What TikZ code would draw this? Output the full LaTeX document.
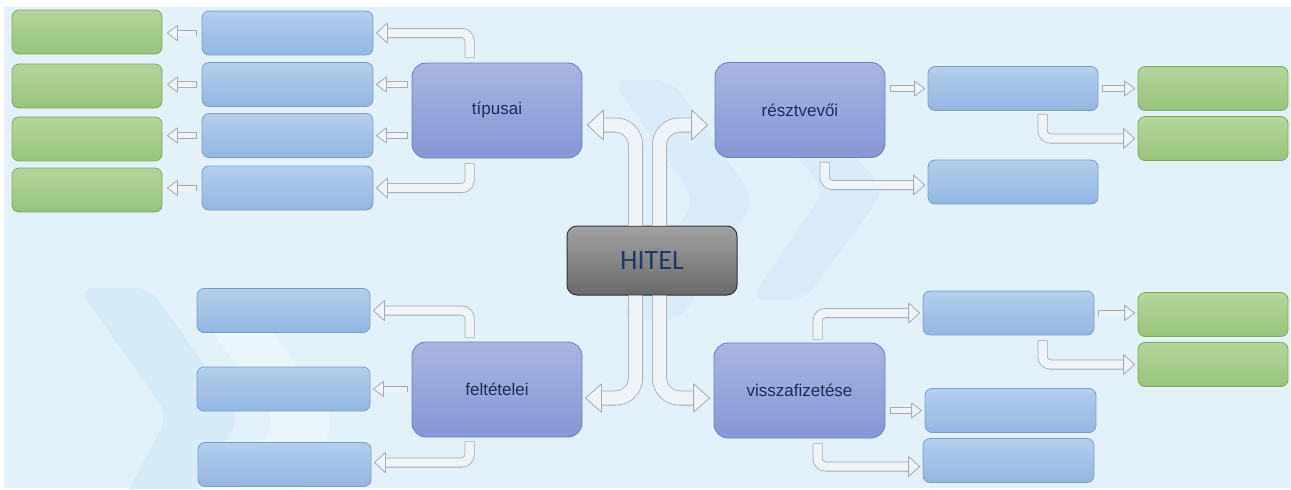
\documentclass[tikz,border=0pt]{standalone}
\usepackage{fontspec}
\setmainfont{Liberation Sans}
\newfontfamily\hitelfont{Carlito}
\usetikzlibrary{calc}
\definecolor{bg}{HTML}{E3F1FB}
\definecolor{chevA}{HTML}{D8EBF8}
\definecolor{chevU}{HTML}{DAECF9}
\definecolor{chevB}{HTML}{EAF5FC}
\definecolor{blueT}{HTML}{B5CEEC}
\definecolor{blueB}{HTML}{93B7E2}
\definecolor{blueL}{HTML}{7A9FCE}
\definecolor{greenT}{HTML}{B5D69C}
\definecolor{greenB}{HTML}{97C47A}
\definecolor{greenL}{HTML}{7FAA5F}
\definecolor{purT}{HTML}{A9B4E2}
\definecolor{purB}{HTML}{8597D6}
\definecolor{purL}{HTML}{6A7EC2}
\definecolor{grayT}{HTML}{A2A2A2}
\definecolor{grayB}{HTML}{6A6A6A}
\definecolor{txt}{HTML}{1F2D5C}
\definecolor{hiteltxt}{HTML}{1F3A66}
\definecolor{tubeline}{HTML}{A7ADB3}
\definecolor{tubefill}{HTML}{EEF4F8}
\begin{document}
\begin{tikzpicture}[x=1pt,y=-1pt,
  box/.style={rounded corners=7pt, inner sep=0pt, line width=0.8pt},
  bluebox/.style={box, draw=blueL, top color=blueT, bottom color=blueB, minimum width=171pt, minimum height=44pt},
  greenbox/.style={box, draw=greenL, top color=greenT, bottom color=greenB, minimum width=150pt, minimum height=44pt},
  mainbox/.style={rounded corners=14pt, inner sep=0pt, line width=0.8pt, draw=purL, top color=purT, bottom color=purB, minimum width=170pt, minimum height=95pt, text=txt, font=\fontsize{17}{20}\selectfont},
  hitel/.style={rounded corners=10pt, inner sep=0pt, draw=black!80, line width=1pt, top color=grayT, bottom color=grayB, minimum width=170pt, minimum height=69pt, text=hiteltxt, font=\hitelfont\fontsize{28}{30}\selectfont},
  tubeS/.style={line width=5pt, draw=tubefill, line cap=rect, preaction={draw=tubeline, line width=6.6pt, line cap=rect}},
  tubeB/.style={line width=8.4pt, draw=tubefill, line cap=rect, rounded corners=8pt, preaction={draw=tubeline, line width=10pt, line cap=rect}},
  tubeC/.style={line width=13.4pt, draw=tubefill, rounded corners=20pt, preaction={draw=tubeline, line width=15pt}},
  headst/.style={draw=tubeline, fill=tubefill, line width=0.8pt, line join=round},
  pics/hl/.style args={#1/#2}{code={\draw[headst] (0,-#2) -- (-#1,0) -- (0,#2) -- cycle;}},
  pics/hr/.style args={#1/#2}{code={\draw[headst] (0,-#2) -- (#1,0) -- (0,#2) -- cycle;}},
]
\useasboundingbox (0,0) rectangle (1291,490);
\fill[white] (0,0) rectangle (1291,490);
\fill[bg] (4,7) rectangle (1291,488);
\begin{scope}
\clip (4,7) rectangle (1291,488);
\fill[chevA, rounded corners=16pt] (78,288) -- (150,288) -- (240,415) -- (185,520) -- (113,520) -- (168,415) -- cycle;
\fill[chevB, rounded corners=16pt] (190,300) -- (250,300) -- (335,420) -- (285,520) -- (225,520) -- (275,420) -- cycle;
\fill[chevU, rounded corners=16pt] (612,80) -- (672,80) -- (755,200) -- (680,320) -- (620,320) -- (695,200) -- cycle;
\fill[chevU, rounded corners=16pt] (745,95) -- (800,95) -- (885,190) -- (805,300) -- (750,300) -- (825,190) -- cycle;
\end{scope}

% nodes
\node[greenbox] (GL1) at (87,32) {};
\node[greenbox] (GL2) at (87,86) {};
\node[greenbox] (GL3) at (87,139) {};
\node[greenbox] (GL4) at (87,190) {};
\node[bluebox] (BL1) at (287.5,33) {};
\node[bluebox] (BL2) at (287.5,84.5) {};
\node[bluebox] (BL3) at (287.5,135.5) {};
\node[bluebox] (BL4) at (287.5,188) {};
\node[mainbox] (T) at (497,110.5) {típusai};
\node[mainbox] (R) at (800,110) {résztvevői};
\node[bluebox, minimum width=170pt] (RB1) at (1013,88.5) {};
\node[bluebox, minimum width=170pt] (RB2) at (1013,182) {};
\node[greenbox] (RG1) at (1213,88.5) {};
\node[greenbox] (RG2) at (1213,138.5) {};
\node[hitel] (H) at (652,260.5) {HITEL};
\node[mainbox] (F) at (497,389.5) {feltételei};
\node[bluebox, minimum width=173pt] (FB1) at (283.5,310.5) {};
\node[bluebox, minimum width=173pt] (FB2) at (283.5,389) {};
\node[bluebox, minimum width=173pt] (FB3) at (284.5,464.5) {};
\node[mainbox, minimum width=171pt] (V) at (799.5,390.5) {visszafizetése};
\node[bluebox] (VB1) at (1008.5,313) {};
\node[bluebox] (VB2) at (1010.5,410.5) {};
\node[bluebox] (VB3) at (1008.5,460.5) {};
\node[greenbox] (VG1) at (1213,314.5) {};
\node[greenbox] (VG2) at (1213,364.5) {};

% center connectors
\draw[tubeC] ($(H.north)+(-16.5,0)$) |- ($(T.east)+(21,14.5)$) coordinate (hT);
\pic at (hT) {hl=16/15};
\draw[tubeC] ($(H.north)+(7.5,0)$) |- ($(R.west)+(-23,15)$) coordinate (hR);
\pic at (hR) {hr=16/15};
\draw[tubeC] ($(H.south)+(-16.5,0)$) |- ($(F.east)+(19,8.5)$) coordinate (hF);
\pic at (hF) {hl=16/14};
\draw[tubeC] ($(H.south)+(7.5,0)$) |- ($(V.west)+(-20,7.5)$) coordinate (hV);
\pic at (hV) {hr=16/14};

% tipusai
\draw[tubeB] ($(T.north west)+(58,-10)$) |- ($(BL1.east)+(14,0)$) coordinate (a1);
\pic at (a1) {hl=11/10};
\draw[tubeS] ($(BL2.east -| T.west)+(-7.3,0)$) -- ($(BL2.east)+(13,0)$) coordinate (a2);
\pic at (a2) {hl=10/7.5};
\draw[tubeS] ($(BL3.east -| T.west)+(-7.3,0)$) -- ($(BL3.east)+(13,0)$) coordinate (a3);
\pic at (a3) {hl=10/7.5};
\draw[tubeB] ($(T.south west)+(58,10)$) |- ($(BL4.east)+(14,0)$) coordinate (a4);
\pic at (a4) {hl=11/10};
\foreach \i in {1,...,4}{
  \draw[tubeS] ($(BL\i.west)+(-8.3,0)$) -- ($(BL\i.west -| GL\i.east)+(15,0)$) coordinate (g\i);
  \pic at (g\i) {hl=10/7.5};
}

% resztvevoi
\draw[tubeS] ($(RB1.west -| R.east)+(8.3,0)$) -- ($(RB1.west)+(-13,0)$) coordinate (r1);
\pic at (r1) {hr=10/7.5};
\draw[tubeS] ($(RB1.east)+(7.3,0)$) -- ($(RB1.east -| RG1.west)+(-13,0)$) coordinate (r2);
\pic at (r2) {hr=10/7.5};
\draw[tubeB] ($(RB1.south west)+(115,8)$) |- ($(RG2.west)+(-14,0)$) coordinate (r3);
\pic at (r3) {hr=11/10};
\draw[tubeB] ($(R.south west)+(110,9)$) |- ($(RB2.west)+(-14,3)$) coordinate (r4);
\pic at (r4) {hr=11/10};

% feltetelei
\draw[tubeB] ($(F.north west)+(58,-9)$) |- ($(FB1.east)+(14,0)$) coordinate (f1);
\pic at (f1) {hl=11/10};
\draw[tubeS] ($(FB2.east -| F.west)+(-7.3,0)$) -- ($(FB2.east)+(13,0)$) coordinate (f2);
\pic at (f2) {hl=10/7.5};
\draw[tubeB] ($(F.south west)+(58,9)$) |- ($(FB3.east)+(14,-2)$) coordinate (f3);
\pic at (f3) {hl=11/10};

% visszafizetese
\draw[tubeB] ($(V.north west)+(104,-8)$) |- ($(VB1.west)+(-14,0)$) coordinate (v1);
\pic at (v1) {hr=11/10};
\draw[tubeS] ($(VB2.west -| V.east)+(8.3,0)$) -- ($(VB2.west)+(-13,0)$) coordinate (v2);
\pic at (v2) {hr=10/7.5};
\draw[tubeB] ($(V.south west)+(104,10)$) |- ($(VB3.west)+(-14,6)$) coordinate (v3);
\pic at (v3) {hr=11/10};
\draw[tubeS] ($(VB1.east)+(7.3,0)$) -- ($(VB1.east -| VG1.west)+(-13,0)$) coordinate (v4);
\pic at (v4) {hr=10/7.5};
\draw[tubeB] ($(VB1.south west)+(120,10)$) |- ($(VG2.west)+(-14,0)$) coordinate (v5);
\pic at (v5) {hr=11/10};
\end{tikzpicture}
\end{document}
